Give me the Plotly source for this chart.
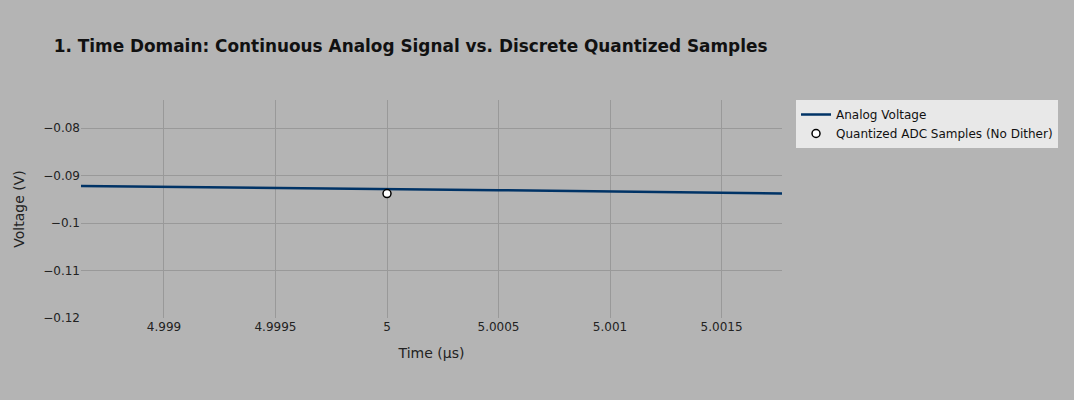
import plotly.graph_objects as go

# analog voltage trace (µs, V)
analog_t = [4.99862, 4.9995, 5.0, 5.0005, 5.00178]
analog_v = [-0.0922, -0.0926, -0.0928, -0.0931, -0.0938]

# quantized ADC sample
sample_t = [5.0]
sample_v = [-0.0938]

x_ticks = [4.999, 4.9995, 5, 5.0005, 5.001, 5.0015]
x_labels = ["4.999", "4.9995", "5", "5.0005", "5.001", "5.0015"]
y_ticks = [-0.12, -0.11, -0.1, -0.09, -0.08]
y_labels = ["\u22120.12", "\u22120.11", "\u22120.1", "\u22120.09", "\u22120.08"]

fig = go.Figure()
fig.add_trace(go.Scatter(
    x=analog_t, y=analog_v, mode="lines", name="Analog Voltage",
    line=dict(color="#003366", width=2.5),
))
fig.add_trace(go.Scatter(
    x=sample_t, y=sample_v, mode="markers", name="Quantized ADC Samples (No Dither)",
    marker=dict(size=8, color="white", line=dict(color="black", width=1.5)),
))

fig.update_layout(
    width=1074, height=400,
    margin=dict(l=81, r=292, t=100, b=82),
    paper_bgcolor="#b4b4b4",
    plot_bgcolor="#b4b4b4",
    font=dict(family="Verdana, DejaVu Sans", size=12, color="#222"),
    title=dict(text="<b>1. Time Domain: Continuous Analog Signal vs. Discrete Quantized Samples</b>",
               x=0.05, xanchor="left", y=0.9, font=dict(size=16.9, color="#111")),
    legend=dict(bgcolor="#e8e8e8", font=dict(size=12, color="#111")),
    showlegend=True,
)
fig.update_xaxes(
    range=[4.998628, 5.001771], tickvals=x_ticks, ticktext=x_labels,
    title=dict(text="Time (\u03bcs)", font=dict(size=14)),
    showgrid=True, gridcolor="#999999", zeroline=False, showline=False,
)
fig.update_yaxes(
    range=[-0.12, -0.0741], tickvals=y_ticks, ticktext=y_labels,
    title=dict(text="Voltage (V)", font=dict(size=14)),
    showgrid=True, gridcolor="#999999", zeroline=False, showline=False,
)

# drop the browser's default page margin so the figure sits at the corner
fig.write_html("out.html", config={"displayModeBar": False},
               post_script="document.body.style.margin='0';")
